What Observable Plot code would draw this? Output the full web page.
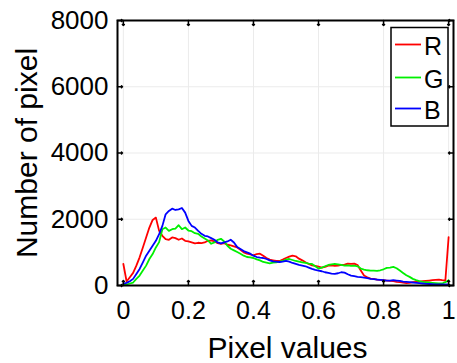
<!DOCTYPE html>
<html>
<head>
<meta charset="utf-8">
<script src="https://cdn.jsdelivr.net/npm/d3@7"></script>
<script src="https://cdn.jsdelivr.net/npm/@observablehq/plot@0.6"></script>
<style>
  html, body { margin: 0; padding: 0; background: #fff; }
  #wrap { position: relative; width: 457px; height: 363px; }
  #wrap svg { font-family: "Liberation Sans", Arial, sans-serif; }
  #legend { position: absolute; left: 0; top: 0; }
</style>
</head>
<body>
<div id="wrap"></div>
<script>
// Pixel value bins (0 .. 1, step 0.01)
const pixelValues = d3.range(0, 101).map(i => +(i / 100).toFixed(2));

const redCounts = [
  650, 120, 250, 380, 600, 850, 1150, 1450, 1750, 1980,
  2050, 1650, 1500, 1400, 1380, 1450, 1430, 1380, 1420, 1350,
  1330, 1300, 1270, 1290, 1280, 1300, 1350, 1360, 1330, 1280,
  1260, 1280, 1230, 1210, 1180, 1150, 1080, 1000, 960, 940,
  910, 950, 960, 900, 830, 780, 760, 740, 740, 780,
  830, 870, 900, 880, 810, 760, 700, 650, 610, 590,
  570, 540, 560, 600, 610, 590, 600, 620, 630, 660,
  650, 660, 620, 450, 300, 250, 210, 200, 180, 170,
  160, 150, 140, 130, 110, 100, 90, 70, 80, 100,
  110, 120, 130, 140, 150, 160, 170, 180, 160, 150,
  1460
];

const greenCounts = [
  20, 30, 60, 90, 200, 300, 450, 600, 800, 950,
  1150, 1310, 1700, 1750, 1650, 1700, 1720, 1820, 1700, 1750,
  1660, 1640, 1580, 1560, 1480, 1420, 1360, 1260, 1300, 1380,
  1410, 1330, 1200, 1110, 1060, 1010, 960, 900, 860, 850,
  830, 790, 760, 710, 690, 670, 690, 700, 720, 740,
  780, 800, 770, 740, 720, 700, 680, 660, 650, 580,
  510, 540, 580, 620, 640, 650, 640, 620, 600, 610,
  590, 600, 580, 510, 480, 460, 450, 450, 440, 460,
  490, 530, 540, 560, 520, 450, 380, 310, 260, 200,
  160, 130, 110, 100, 90, 80, 70, 60, 60, 100,
  160
];

const blueCounts = [
  60, 80, 130, 200, 350, 500, 700, 900, 1050, 1200,
  1350, 1550, 1800, 2150, 2250, 2320, 2280, 2300, 2340, 2200,
  1950, 1800, 1750, 1650, 1560, 1500, 1480, 1430, 1380, 1300,
  1270, 1300, 1330, 1380, 1300, 1160, 1100, 1040, 1000, 960,
  900, 860, 840, 830, 800, 760, 730, 720, 710, 720,
  740, 720, 680, 650, 620, 600, 580, 540, 500, 470,
  450, 430, 400, 380, 360, 350, 370, 400, 390, 340,
  300, 280, 260, 250, 240, 220, 200, 190, 180, 170,
  160, 150, 150, 160, 150, 140, 120, 110, 100, 90,
  80, 70, 60, 50, 45, 40, 35, 30, 30, 30,
  30
];

const xTicks = [0, 0.2, 0.4, 0.6, 0.8, 1];
const yTicks = [0, 2000, 4000, 6000, 8000];
const seriesNames = ["R", "G", "B"];
const seriesColors = ["#ff0000", "#00f000", "#0000ff"];

const xLabel = "Pixel values";
const yLabel = "Number of pixel";

const rows = [];
[redCounts, greenCounts, blueCounts].forEach((arr, s) => {
  arr.forEach((v, i) => rows.push({series: seriesNames[s], x: pixelValues[i], y: v}));
});

const xDomain = [-0.018, 1.015];
const yDomain = [0, 8000];
const font = "Liberation Sans, Arial, sans-serif";

const chart = Plot.plot({
  width: 457,
  height: 363,
  marginLeft: 117,
  marginRight: 4,
  marginTop: 20,
  marginBottom: 78,
  style: {fontFamily: font, background: "white", color: "black", overflow: "visible"},
  x: {domain: xDomain},
  y: {domain: yDomain},
  color: {domain: seriesNames, range: seriesColors},
  marks: [
    Plot.gridX(xTicks, {stroke: "#ebebeb", strokeOpacity: 1, strokeWidth: 1}),
    Plot.gridY(yTicks, {stroke: "#ebebeb", strokeOpacity: 1, strokeWidth: 1}),
    Plot.line(rows, {x: "x", y: "y", z: "series", stroke: "series", strokeWidth: 1.8, strokeLinejoin: "round"}),
    Plot.frame({stroke: "black", strokeWidth: 2}),
    // inward ticks
    Plot.vector(xTicks, {x: d => d, y: yDomain[0], length: 5, rotate: 0, anchor: "start", stroke: "black", strokeWidth: 1.5}),
    Plot.vector(xTicks, {x: d => d, y: yDomain[1], length: 5, rotate: 180, anchor: "start", stroke: "black", strokeWidth: 1.5}),
    Plot.vector(yTicks, {y: d => d, x: xDomain[0], length: 5, rotate: 90, anchor: "start", stroke: "black", strokeWidth: 1.5}),
    Plot.vector(yTicks, {y: d => d, x: xDomain[1], length: 5, rotate: 270, anchor: "start", stroke: "black", strokeWidth: 1.5}),
    Plot.axisX(xTicks, {tickSize: 0, tickPadding: 16, fontSize: 25, tickFormat: d => String(d), label: null}),
    Plot.axisY(yTicks, {tickSize: 0, tickPadding: 9, fontSize: 26, tickFormat: d => String(d), label: null}),
    Plot.text([xLabel], {frameAnchor: "bottom", dy: 72, text: d => d, fontSize: 30, lineAnchor: "bottom", textAnchor: "middle", fill: "black", dx: 2}),
    Plot.text([yLabel], {frameAnchor: "left", dx: -81, text: d => d, fontSize: 30, rotate: -90, lineAnchor: "bottom", textAnchor: "middle", fill: "black"})
  ]
});

const wrap = document.getElementById("wrap");
wrap.appendChild(chart);

// Legend overlay
const ns = "http://www.w3.org/2000/svg";
const leg = document.createElementNS(ns, "svg");
leg.setAttribute("id", "legend");
leg.setAttribute("width", 457);
leg.setAttribute("height", 363);
const box = document.createElementNS(ns, "rect");
box.setAttribute("x", 391); box.setAttribute("y", 27.5);
box.setAttribute("width", 57); box.setAttribute("height", 98.5);
box.setAttribute("fill", "white"); box.setAttribute("stroke", "black"); box.setAttribute("stroke-width", 1.5);
leg.appendChild(box);
const legY = [44.5, 77.5, 108.5];
seriesNames.forEach((name, i) => {
  const ln = document.createElementNS(ns, "line");
  ln.setAttribute("x1", 395); ln.setAttribute("x2", 421);
  ln.setAttribute("y1", legY[i]); ln.setAttribute("y2", legY[i]);
  ln.setAttribute("stroke", seriesColors[i]); ln.setAttribute("stroke-width", 1.8);
  leg.appendChild(ln);
  const t = document.createElementNS(ns, "text");
  t.setAttribute("x", 424); t.setAttribute("y", legY[i] + 10);
  t.setAttribute("font-size", 25);
  t.setAttribute("font-family", font);
  t.textContent = name;
  leg.appendChild(t);
});
wrap.appendChild(leg);
</script>
</body>
</html>
